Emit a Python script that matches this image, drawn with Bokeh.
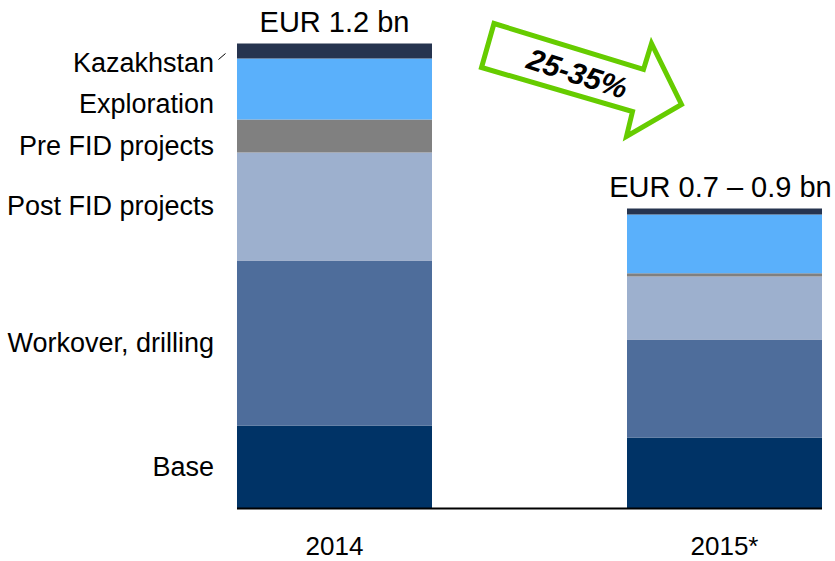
from bokeh.plotting import figure
from bokeh.models import Range1d, ColumnDataSource
from bokeh.core.properties import value
from bokeh.embed import file_html
from bokeh.resources import INLINE

# ---- data (EUR bn) ----
years = ["2014", "2015*"]
categories = ["Base", "Workover, drilling", "Post FID projects",
              "Pre FID projects", "Exploration", "Kazakhstan"]
base = [0.214, 0.183]
workover = [0.426, 0.253]
post_fid = [0.279, 0.163]
pre_fid = [0.085, 0.008]
exploration = [0.157, 0.152]
kazakhstan = [0.039, 0.015]
totals = ["EUR 1.2 bn", "EUR 0.7 \u2013 0.9 bn"]
change_label = "25-35%"

colors = ["#003366", "#4E6D9B", "#9DB0CE", "#808080", "#5AB0FB", "#26344F"]
FONT = "Liberation Sans"

xpos = [0, 1]
data = {"x": xpos, "Base": base, "Workover, drilling": workover,
        "Post FID projects": post_fid, "Pre FID projects": pre_fid,
        "Exploration": exploration, "Kazakhstan": kazakhstan}
source = ColumnDataSource(data)

W, H = 835, 561
p = figure(width=W, height=H, output_backend="svg", toolbar_location=None,
           x_range=Range1d(-0.8564, 1.2846), y_range=Range1d(-0.1368, 1.3110),
           x_axis_location=None, y_axis_location=None, min_border=0)
p.extra_x_ranges["px"] = Range1d(0, W)
p.extra_y_ranges["px"] = Range1d(H, 0)
p.outline_line_color = None
p.xgrid.visible = False
p.ygrid.visible = False
p.background_fill_color = "white"
p.border_fill_color = "white"

p.vbar_stack(categories, x="x", width=0.5, color=colors, line_color=None,
             source=source)

# baseline
p.segment(x0=[xpos[0] - 0.25], y0=[0], x1=[xpos[1] + 0.25], y1=[0],
          line_color="black", line_width=2)

# totals above bars
tot_vals = [sum(v) for v in zip(base, workover, post_fid, pre_fid, exploration, kazakhstan)]
p.text(x=xpos, y=tot_vals, text=totals, text_align="center",
       text_baseline="alphabetic", x_offset=[0, -4], y_offset=-22,
       text_font=value(FONT), text_font_size="29px", text_color="black")

# year labels
p.text(x=xpos, y=[0, 0], text=years, text_align="center",
       text_baseline="alphabetic", y_offset=38,
       text_font=value(FONT), text_font_size="26px", text_color="black")

# category labels on the left of the 2014 bar
vals14 = [base[0], workover[0], post_fid[0], pre_fid[0], exploration[0], kazakhstan[0]]
mids = []
cum = 0
for v in vals14:
    mids.append(cum + v / 2)
    cum += v
label_shift = [0, 0, 0, 10, 15, 12]
p.text(x=[-0.25] * 6, y=mids, text=categories, text_align="right",
       text_baseline="middle", x_offset=-23, y_offset=label_shift,
       text_font=value(FONT), text_font_size="27px", text_color="black")

# leader line for Kazakhstan
p.line(x=[218, 225], y=[59, 53], line_color="black", line_width=1,
       x_range_name="px", y_range_name="px")

# arrow
ax = [493.5, 643, 651, 681, 626, 632, 481]
ay = [23, 69, 43, 104, 136, 111, 67]
p.patch(ax, ay, fill_color="white", line_color="#66CC00", line_width=5,
        line_join="miter", x_range_name="px", y_range_name="px")
p.text(x=[577], y=[73], text=[change_label], angle=-0.31,
       text_align="center", text_baseline="middle",
       text_font=value(FONT), text_font_size="30px",
       text_font_style="bold italic", text_color="black",
       x_range_name="px", y_range_name="px")

open("out.html", "w").write(file_html(p, INLINE))
